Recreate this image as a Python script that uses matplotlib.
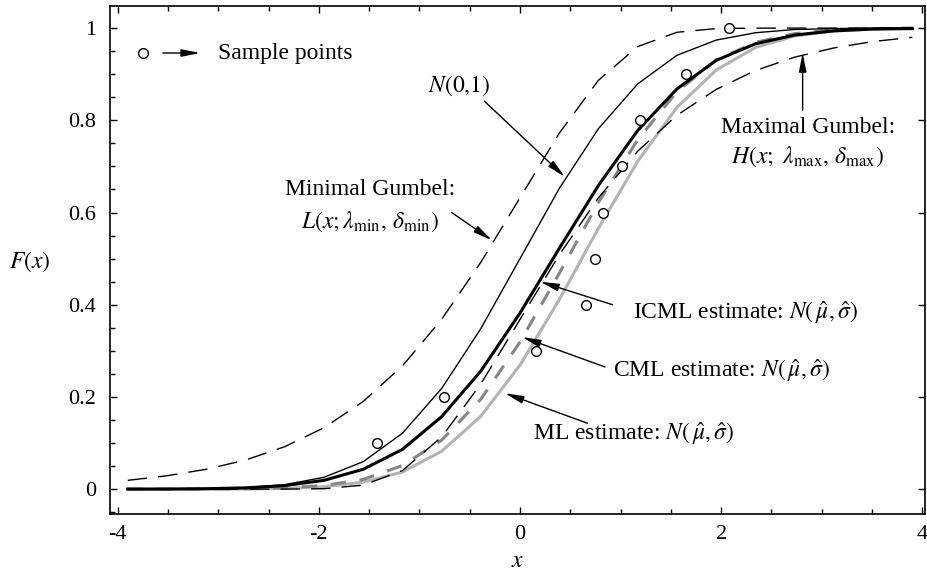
import matplotlib
matplotlib.use("Agg")
import matplotlib.pyplot as plt
from matplotlib.ticker import MultipleLocator, FixedLocator

plt.rcParams["font.family"] = ["Liberation Serif", "DejaVu Serif"]
plt.rcParams["mathtext.fontset"] = "stix"
plt.rcParams["axes.unicode_minus"] = False

# x grid on which the curves were drawn
x_grid = [-3.9, -3.51, -3.12, -2.73, -2.34, -1.95, -1.56, -1.17, -0.78, -0.39, 0.0,
          0.39, 0.78, 1.17, 1.56, 1.95, 2.34, 2.73, 3.12, 3.51, 3.9]

f_std_normal = [0.0, 0.0002, 0.0009, 0.0032, 0.0096, 0.0256, 0.0594, 0.121, 0.218, 0.348, 0.500,
                0.652, 0.782, 0.879, 0.941, 0.974, 0.990, 0.997, 0.999, 1.0, 1.0]
f_gumbel_min = [0.019, 0.029, 0.043, 0.063, 0.092, 0.133, 0.190, 0.267, 0.368, 0.492, 0.632,
                0.772, 0.887, 0.960, 0.991, 0.999, 1.0, 1.0, 1.0, 1.0, 1.0]
f_gumbel_max = [0.0, 0.0, 0.0, 0.0, 0.0, 0.0009, 0.0086, 0.040, 0.113, 0.228, 0.368,
                0.508, 0.632, 0.733, 0.811, 0.867, 0.908, 0.937, 0.957, 0.971, 0.980]
f_icml = [0.0001, 0.0002, 0.0009, 0.0027, 0.0076, 0.019, 0.043, 0.086, 0.157, 0.256, 0.382,
          0.522, 0.659, 0.778, 0.868, 0.930, 0.966, 0.985, 0.994, 0.998, 0.999]
f_cml = [0.0, 0.0, 0.0002, 0.0007, 0.0025, 0.0078, 0.021, 0.051, 0.106, 0.195, 0.319,
         0.468, 0.622, 0.758, 0.862, 0.931, 0.969, 0.988, 0.996, 0.999, 1.0]
f_ml = [0.0, 0.0, 0.0001, 0.0004, 0.0016, 0.0052, 0.015, 0.037, 0.082, 0.158, 0.269,
        0.411, 0.566, 0.711, 0.828, 0.909, 0.958, 0.983, 0.994, 0.998, 1.0]

# sample points
sample_x = [-1.42, -0.755, 0.16, 0.656, 0.745, 0.83, 1.01, 1.19, 1.65, 2.08]
sample_f = [0.1, 0.2, 0.3, 0.4, 0.5, 0.6, 0.7, 0.8, 0.9, 1.0]

x_ticks = [-4, -2, 0, 2, 4]
y_ticks = [0, 0.2, 0.4, 0.6, 0.8, 1]
y_tick_labels = ["0", "0.2", "0.4", "0.6", "0.8", "1"]

fig = plt.figure(figsize=(9.27, 5.71), dpi=100)
ax = fig.add_axes([0.1187, 0.0998, 0.8791, 0.8897])

ax.plot(x_grid, f_ml, color="#b3b3b3", lw=2.2, zorder=2)
ax.plot(x_grid, f_cml, color="#858585", lw=2.2, dashes=(5, 4.5), zorder=3)
ax.plot(x_grid, f_gumbel_max, color="black", lw=1.0, dashes=(14, 8), zorder=4)
ax.plot(x_grid, f_icml, color="black", lw=2.2, zorder=5)
ax.plot(x_grid, f_std_normal, color="black", lw=1.0, zorder=5)
ax.plot(x_grid, f_gumbel_min, color="black", lw=1.0, dashes=(14, 8), zorder=4)
ax.plot(sample_x, sample_f, "o", ms=7, mfc="white", mec="black", mew=1.0, zorder=6)

ax.set_xlim(-4.076, 4.026)
ax.set_ylim(-0.054, 1.048)
ax.xaxis.set_major_locator(FixedLocator(x_ticks))
ax.xaxis.set_minor_locator(MultipleLocator(0.5))
ax.yaxis.set_major_locator(FixedLocator(y_ticks))
ax.set_yticklabels(y_tick_labels)
ax.yaxis.set_minor_locator(MultipleLocator(0.05))
ax.tick_params(which="both", direction="in", top=True, right=True, labelsize=16, width=1.0)
ax.tick_params(which="minor", right=False)
ax.tick_params(which="major", length=5)
ax.tick_params(which="minor", length=3.5)
ax.tick_params(axis="x", pad=8)
ax.tick_params(axis="y", pad=10)
for s in ax.spines.values():
    s.set_linewidth(1.2)

ax.set_xlabel(r"$x$", fontsize=17, labelpad=5)
fig.text(30 / 927, 1 - 262 / 571, r"$F(x)$", fontsize=17, ha="center", va="center")

fs = 17
arr = dict(arrowstyle="-|>,head_length=0.8,head_width=0.16", color="black", lw=1.0,
           shrinkA=0, shrinkB=0, mutation_scale=14)

# legend-like marker
ax.plot([-3.75], [0.946], "o", ms=7, mfc="white", mec="black", mew=1.0, clip_on=False)
ax.annotate("", xy=(-3.18, 0.946), xytext=(-3.55, 0.946), arrowprops=arr)
ax.text(-3.0, 0.946, "Sample points", fontsize=fs, va="center", ha="left")

ax.annotate(r"$N(0{,}1)$", xy=(0.447, 0.677), xytext=(-0.6, 0.874), fontsize=fs,
            ha="center", va="center", arrowprops=dict(arr, relpos=(0.85, 0.0)))

ax.text(-1.49, 0.649, "Minimal Gumbel:", fontsize=fs, ha="center", va="center")
ax.text(-1.49, 0.579, r"$L(x;\lambda_{\rm min},\,\delta_{\rm min})$", fontsize=fs,
        ha="center", va="center")
ax.annotate("", xy=(-0.28, 0.54), xytext=(-0.68, 0.60), arrowprops=arr)

ax.text(2.86, 0.785, "Maximal Gumbel:", fontsize=fs, ha="center", va="center")
ax.text(2.86, 0.72, r"$H(x;\ \lambda_{\rm max},\,\delta_{\rm max})$", fontsize=fs,
        ha="center", va="center")
ax.annotate("", xy=(2.81, 0.946), xytext=(2.81, 0.822), arrowprops=arr)

est = r"$N(\,\hat{\mu},\hat{\sigma})$"
ax.text(1.12, 0.382, "ICML estimate: " + est, fontsize=fs, ha="left", va="center")
ax.annotate("", xy=(0.2, 0.45), xytext=(0.92, 0.40), arrowprops=arr)

ax.text(0.925, 0.258, "CML estimate: " + est, fontsize=fs, ha="left", va="center")
ax.annotate("", xy=(0.02, 0.33), xytext=(0.845, 0.265), arrowprops=arr)

ax.text(0.13, 0.121, "ML estimate: " + est, fontsize=fs, ha="left", va="center")
ax.annotate("", xy=(-0.15, 0.208), xytext=(0.67, 0.143), arrowprops=arr)

fig.savefig("out.png", dpi=100)
